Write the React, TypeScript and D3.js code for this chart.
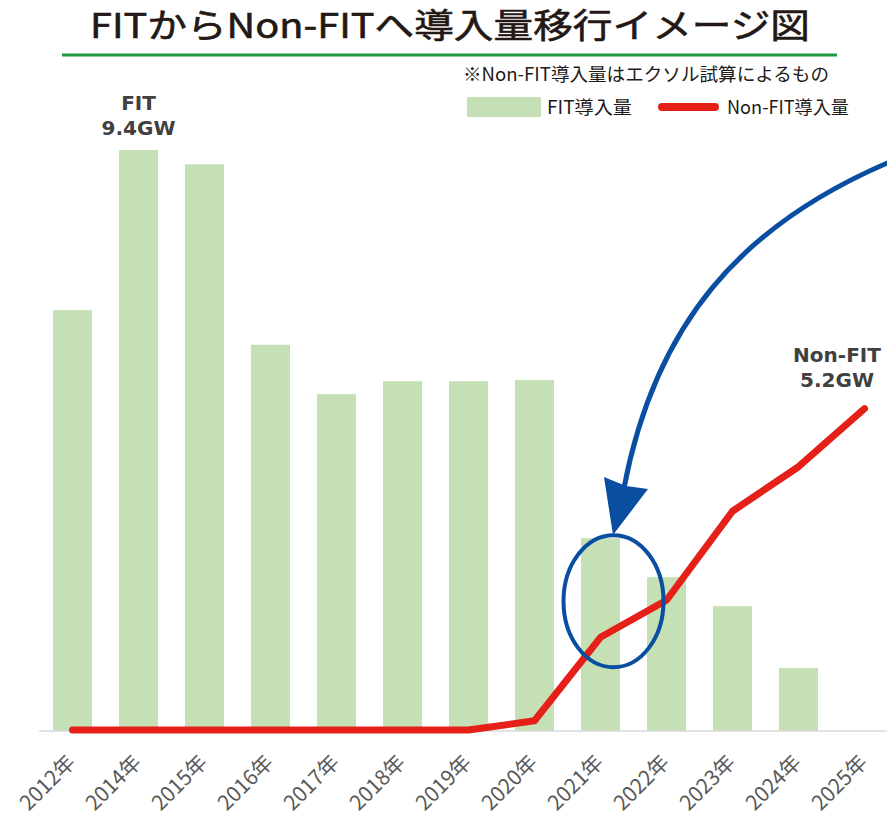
import React, { useEffect, useRef } from 'react';
import * as d3 from 'd3';

const years = ['2012年', '2014年', '2015年', '2016年', '2017年', '2018年', '2019年', '2020年', '2021年', '2022年', '2023年', '2024年', '2025年'];
const fitValues = [6.81, 9.4, 9.17, 6.25, 5.45, 5.66, 5.66, 5.68, 3.12, 2.49, 2.02, 1.02, 0];
const nonFitValues = [0, 0, 0, 0, 0, 0, 0, 0.15, 1.5, 2.1, 3.54, 4.26, 5.2];

const JP = "'Noto Sans CJK JP', 'Noto Sans', sans-serif";
const LABEL = "'DejaVu Sans', sans-serif";

const App: React.FC = () => {
  const svgRef = useRef<SVGSVGElement>(null);

  useEffect(() => {
    if (!svgRef.current) return;
    const svg = d3.select(svgRef.current);
    svg.selectAll('*').remove();

    const width = 887;
    const height = 818;
    svg.attr('viewBox', `0 0 ${width} ${height}`);

    const x = d3.scaleBand<string>()
      .domain(years)
      .range([39.5, 897.5])
      .paddingInner(0.41)
      .paddingOuter(0.205);
    const y = d3.scaleLinear().domain([0, 10]).range([731, 113]);
    const cx = (yr: string) => (x(yr) ?? 0) + x.bandwidth() / 2;

    // title
    svg.append('text')
      .attr('x', 450)
      .attr('y', 38)
      .attr('text-anchor', 'middle')
      .attr('font-family', JP)
      .attr('font-size', 34)
      .attr('font-weight', 400)
      .attr('fill', '#231815')
      .attr('stroke', '#231815')
      .attr('stroke-width', 0.6)
      .attr('textLength', 720)
      .attr('lengthAdjust', 'spacingAndGlyphs')
      .text('FITからNon-FITへ導入量移行イメージ図');

    svg.append('line')
      .attr('x1', 62).attr('x2', 837)
      .attr('y1', 55).attr('y2', 55)
      .attr('stroke', '#1f9a3e')
      .attr('stroke-width', 3);

    // note
    svg.append('text')
      .attr('x', 463)
      .attr('y', 81)
      .attr('font-family', JP)
      .attr('font-size', 18.5)
      .attr('fill', '#231815')
      .attr('textLength', 366)
      .attr('lengthAdjust', 'spacingAndGlyphs')
      .text('※Non-FIT導入量はエクソル試算によるもの');

    // legend
    const lg = svg.append('g');
    lg.append('rect')
      .attr('x', 467).attr('y', 97)
      .attr('width', 74).attr('height', 20)
      .attr('fill', '#c5e0b4');
    lg.append('text')
      .attr('x', 547).attr('y', 114)
      .attr('font-family', JP)
      .attr('font-size', 18.5)
      .attr('fill', '#231815')
      .attr('textLength', 85)
      .attr('lengthAdjust', 'spacingAndGlyphs')
      .text('FIT導入量');
    lg.append('line')
      .attr('x1', 662).attr('x2', 715)
      .attr('y1', 107).attr('y2', 107)
      .attr('stroke', '#e52019')
      .attr('stroke-width', 8)
      .attr('stroke-linecap', 'round');
    lg.append('text')
      .attr('x', 727).attr('y', 114)
      .attr('font-family', JP)
      .attr('font-size', 18.5)
      .attr('fill', '#231815')
      .attr('textLength', 122)
      .attr('lengthAdjust', 'spacingAndGlyphs')
      .text('Non-FIT導入量');

    // bars
    svg.append('g')
      .selectAll('rect')
      .data(years.map((yr, i) => ({ yr, v: fitValues[i] })).filter(d => d.v > 0))
      .join('rect')
      .attr('x', d => x(d.yr) ?? 0)
      .attr('y', d => y(d.v))
      .attr('width', x.bandwidth())
      .attr('height', d => y(0) - y(d.v))
      .attr('fill', '#c5e0b4');

    // axis baseline
    svg.append('line')
      .attr('x1', 39).attr('x2', width)
      .attr('y1', y(0)).attr('y2', y(0))
      .attr('stroke', '#d9d9d9')
      .attr('stroke-width', 1.5);

    // x labels
    svg.append('g')
      .selectAll('text')
      .data(years)
      .join('text')
      .attr('transform', d => `translate(${cx(d) + 4},${y(0) + 33}) rotate(-45)`)
      .attr('text-anchor', 'end')
      .attr('font-family', JP)
      .attr('font-size', 21)
      .attr('fill', '#595959')
      .text(d => d);

    // non-FIT line
    const line = d3.line<number>()
      .x((_, i) => cx(years[i]))
      .y(d => y(d) - 1);
    svg.append('path')
      .datum(nonFitValues)
      .attr('d', line)
      .attr('fill', 'none')
      .attr('stroke', '#e52019')
      .attr('stroke-width', 7)
      .attr('stroke-linejoin', 'round')
      .attr('stroke-linecap', 'round');

    // value callouts
    const callout = (xp: number, yp: number, lines: string[]) => {
      const t = svg.append('text')
        .attr('text-anchor', 'middle')
        .attr('font-family', LABEL)
        .attr('font-size', 20)
        .attr('font-weight', 'bold')
        .attr('fill', '#404040');
      lines.forEach((s, i) => {
        t.append('tspan').attr('x', xp).attr('y', yp + i * 25).text(s);
      });
    };
    callout(cx('2014年'), y(9.4) - 40, ['FIT', '9.4GW']);
    callout(837, y(5.2) - 48, ['Non-FIT', '5.2GW']);

    // highlight ellipse
    svg.append('ellipse')
      .attr('cx', cx('2021年') + 13)
      .attr('cy', y(2.1))
      .attr('rx', 50)
      .attr('ry', 66)
      .attr('fill', 'none')
      .attr('stroke', '#0a4ea2')
      .attr('stroke-width', 4);

    // curved arrow
    svg.append('path')
      .attr('d', 'M 892 161 C 740 225, 655 325, 624 488')
      .attr('fill', 'none')
      .attr('stroke', '#0a4ea2')
      .attr('stroke-width', 5);
    svg.append('path')
      .attr('d', 'M 613 535 L 604 477 L 626 486 L 648 489 Z')
      .attr('fill', '#0a4ea2');
  }, []);

  return (
    <div style={{ position: 'fixed', left: 0, top: 0, background: '#fff' }}>
      <svg ref={svgRef} width={887} height={818} style={{ display: 'block' }}></svg>
    </div>
  );
};

export default App;
